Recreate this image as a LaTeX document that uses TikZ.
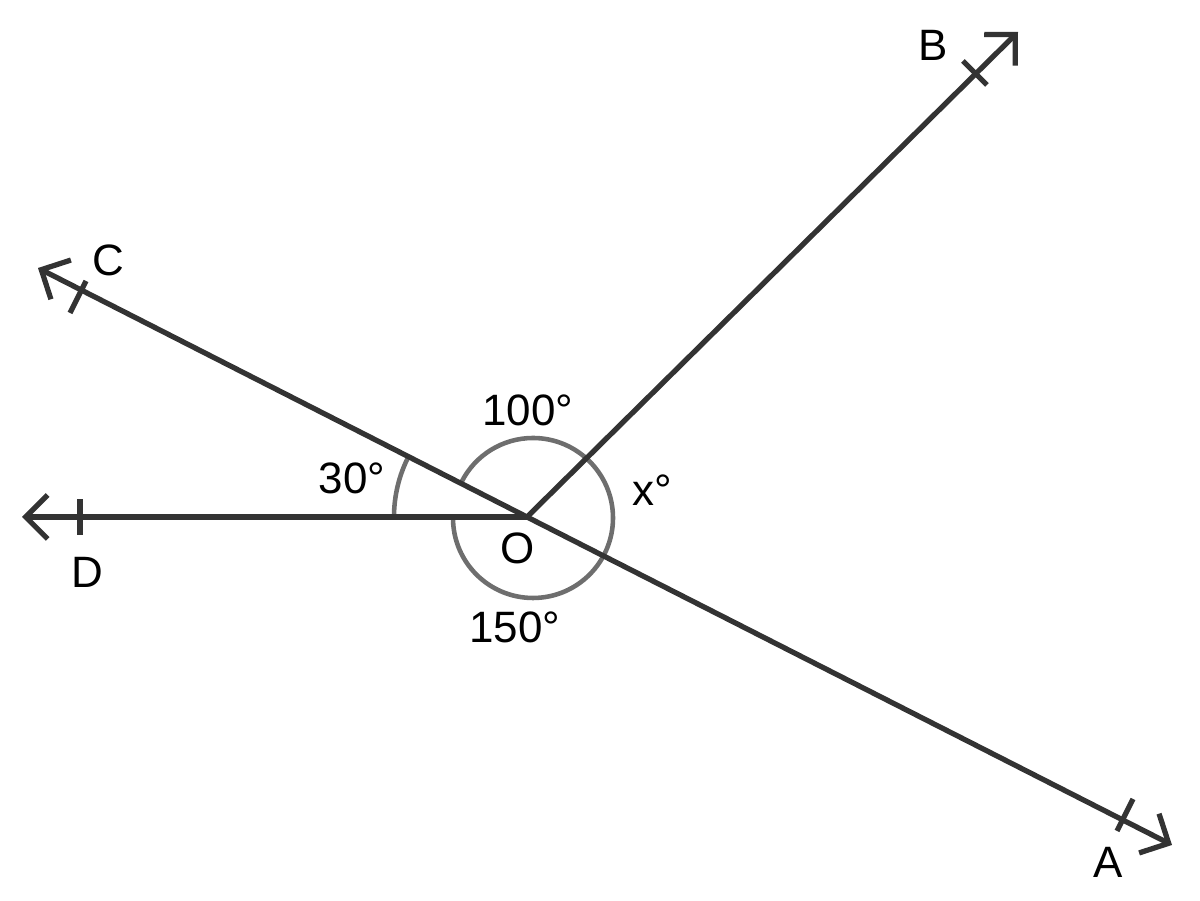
\documentclass[tikz,border=0pt]{standalone}
\usepackage{fontspec}
\setmainfont{Liberation Sans}
\usetikzlibrary{arrows.meta,calc}
\definecolor{ln}{HTML}{333333}
\definecolor{arcc}{HTML}{6E6E6E}
\begin{document}
\begin{tikzpicture}[
  ray/.style={draw=ln,line width=1.5pt,-{Straight Barb[length=2.2mm,width=4.4mm,line width=1.5pt]}},
  tick/.style={draw=ln,line width=1.5pt},
  arcline/.style={draw=arcc,line width=1.3pt},
  lab/.style={font=\fontsize{12.5}{14}\selectfont,text=black,inner sep=0pt}]
\useasboundingbox (0,0) rectangle (12,9.01);
\coordinate (O) at (5.27,3.84);
\coordinate (A) at (11.72,0.56);
\coordinate (B) at (10.18,8.69);
\coordinate (C) at (0.38,6.33);
\coordinate (D) at (0.22,3.84);
\draw[arcline] (3.94,3.84) arc[start angle=180,end angle=153,radius=1.33];
\draw[arcline] (4.53,3.83) arc[start angle=180,end angle=513,radius=0.8];
\draw[ray] (O) -- (A);
\draw[ray] (O) -- (B);
\draw[ray] (O) -- (C);
\draw[ray] (O) -- (D);
\draw[tick] (0.80,3.66) -- (0.80,4.02);
\draw[tick] ($(0.78,6.04)+(-0.08,-0.16)$) -- ($(0.78,6.04)+(0.08,0.16)$);
\draw[tick] ($(9.75,8.28)+(-0.12,0.12)$) -- ($(9.75,8.28)+(0.12,-0.12)$);
\draw[tick] ($(11.25,0.86)+(-0.08,-0.16)$) -- ($(11.25,0.86)+(0.08,0.16)$);
\node[lab] (lB) at (9.33,8.56) {B};
\node[lab] (lC) at (1.08,6.41) {C};
\node[lab] (lD) at (0.87,3.29) {D};
\node[lab] (lA) at (11.08,0.39) {A};
\node[lab] (lO) at (5.18,3.53) {O};
\node[lab] (l100) at (5.28,4.91) {100°};
\node[lab] (l30) at (3.52,4.23) {30°};
\node[lab] (lx) at (6.52,4.11) {x°};
\node[lab] (l150) at (5.15,2.74) {150°};
\end{tikzpicture}
\end{document}
